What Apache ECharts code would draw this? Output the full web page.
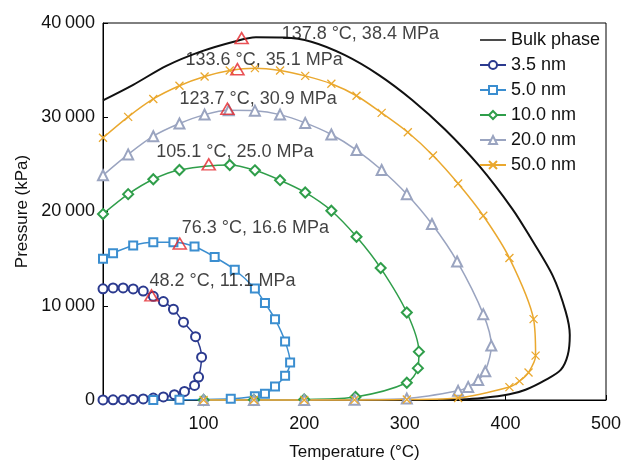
<!DOCTYPE html>
<html>
<head>
<meta charset="utf-8">
<script src="https://cdn.jsdelivr.net/npm/echarts@6/dist/echarts.min.js"></script>
<style>html,body{margin:0;padding:0;background:#fff}#c{width:630px;height:466px}</style>
</head>
<body>
<div id="c"></div>
<script>
// ---- data (temperature °C, pressure kPa) ----
const bulkT = [0, 30, 63, 97, 130, 152, 180, 207, 240, 274, 307, 340, 374, 407, 424, 447, 460, 464, 462, 455, 440, 420, 404, 377, 355, 333];
const bulkP = [31790, 33440, 35450, 36960, 38020, 38480, 38450, 38010, 36610, 34500, 31860, 28700, 24830, 20260, 17400, 13200, 9350, 6900, 4780, 3200, 2140, 1090, 600, 200, 40, 0];

const nm35T = [0, 10, 20, 30, 40, 50, 60, 70, 80, 92, 98, 95, 91, 81, 71, 60, 50, 40, 30, 20, 10, 0];
const nm35P = [11800, 11890, 11890, 11780, 11560, 11000, 10440, 9630, 8260, 6720, 4540, 2430, 1550, 910, 560, 320, 210, 110, 60, 30, 15, 5];

const nm5T = [0, 10, 30, 50, 70, 91, 111, 131, 151, 161, 171, 181, 186, 181, 171, 161, 151, 127, 76, 50];
const nm5P = [14980, 15580, 16390, 16740, 16740, 16280, 15160, 13820, 11820, 10280, 8580, 6220, 3990, 2570, 1440, 650, 390, 120, 20, 0];

const nm10T = [0, 25, 50, 76, 126, 151, 176, 201, 227, 252, 276, 302, 314, 313, 302, 251, 200, 150, 100];
const nm10P = [19730, 21840, 23420, 24400, 24930, 24370, 23320, 22020, 20080, 17320, 14000, 9280, 5130, 3380, 1830, 320, 60, 15, 0];

const nm20T = [0, 25, 50, 76, 101, 125, 151, 176, 201, 227, 252, 277, 302, 327, 352, 378, 386, 380, 373, 363, 353, 302, 250, 200, 150, 100];
const nm20P = [23840, 26060, 27990, 29330, 30280, 30750, 30700, 30280, 29400, 28170, 26520, 24400, 21840, 18670, 14700, 9110, 5770, 3040, 2110, 1390, 970, 150, 30, 10, 5, 0];

const nm50T = [0, 25, 50, 76, 101, 126, 151, 176, 201, 227, 252, 277, 303, 328, 353, 378, 404, 428, 430, 423, 414, 404, 353, 302, 250, 200, 150, 100];
const nm50P = [27820, 30040, 31940, 33340, 34320, 34960, 35210, 34960, 34390, 33550, 32280, 30460, 28410, 25950, 22970, 19550, 15060, 8580, 4710, 2920, 2000, 1370, 210, 50, 10, 5, 2, 0];

// critical points
const critT = [137.8, 133.6, 123.7, 105.1, 76.3, 48.2];
const critP = [38400, 35100, 30900, 25000, 16600, 11100];

const seriesNames = ['Bulk phase', '3.5 nm', '5.0 nm', '10.0 nm', '20.0 nm', '50.0 nm'];
const xTicks = [0, 100, 200, 300, 400, 500];
const yTicks = [0, 10000, 20000, 30000, 40000];

// ---- layout / style (not data) ----
const labelOffsets = [[40, -4], [-52, -9], [-48, -9.5], [-52.5, -12.5], [2, -16], [-2, -14]];
const FONT = '"Liberation Sans", Arial, sans-serif';
const colors = { bulk: '#111111', n35: '#2B3A8F', n5: '#3B8ED0', n10: '#2F9E4A', n20: '#9AA4C0', n50: '#EAA82E', red: '#E3262B' };
const lineOnlyIcon = 'path://M0,0L26,0L26,0.01Z M0,4.2L26,4.2L26,5.8L0,5.8Z M0,10L26,10L26,10.01Z';

const zip = (a, b) => a.map((v, i) => [v, b[i]]);

function curve(name, T, P, color, symbol, size) {
  return {
    name, type: 'line', data: zip(T, P), smooth: 0.3, clip: false,
    symbol, symbolSize: size, showSymbol: true,
    lineStyle: { color, width: 1.5 },
    itemStyle: { color, borderColor: color, borderWidth: 1.3 },
    emphasis: { disabled: true }
  };
}

const chart = echarts.init(document.getElementById('c'), null, { renderer: 'canvas' });
chart.setOption({
  animation: false,
  backgroundColor: '#fff',
  grid: { left: 103, right: 24, top: 23, bottom: 64, show: true, borderColor: '#000', borderWidth: 1, backgroundColor: 'transparent' },
  xAxis: {
    type: 'value', min: xTicks[0], max: xTicks[xTicks.length - 1], interval: 100,
    name: 'Temperature (°C)', nameLocation: 'middle', nameGap: 44,
    nameTextStyle: { fontSize: 17, color: '#111', fontFamily: FONT },
    axisLine: { show: true, lineStyle: { color: '#000', width: 1 } },
    axisTick: { show: true, inside: true, length: 5, lineStyle: { color: '#000' } },
    axisLabel: { fontSize: 18, color: '#111', fontFamily: FONT, margin: 15, formatter: v => v === 0 ? '' : String(v) },
    splitLine: { show: false }
  },
  yAxis: {
    type: 'value', min: yTicks[0], max: yTicks[yTicks.length - 1], interval: 10000,
    name: 'Pressure (kPa)', nameLocation: 'middle', nameGap: 70,
    nameTextStyle: { fontSize: 17, color: '#111', fontFamily: FONT },
    axisLine: { show: true, lineStyle: { color: '#000', width: 1 } },
    axisTick: { show: true, inside: true, length: 5, lineStyle: { color: '#000' } },
    axisLabel: { fontSize: 18, color: '#111', fontFamily: FONT, margin: 8,
      formatter: v => v === 0 ? '0' : String(v).replace(/(\d)(?=(\d{3})+$)/g, '$1\u2009') },
    splitLine: { show: false }
  },
  legend: {
    data: seriesNames.map((n, i) => i === 0 ? { name: n, icon: lineOnlyIcon } : { name: n }),
    orient: 'vertical', left: 474, top: 26,
    itemWidth: 26, itemHeight: 10, itemGap: 7,
    textStyle: { fontSize: 18, color: '#111', fontFamily: FONT },
    selectedMode: false
  },
  series: [
    { name: seriesNames[0], type: 'line', data: zip(bulkT, bulkP), smooth: 0.3, symbol: 'none', clip: false,
      lineStyle: { color: colors.bulk, width: 2 }, itemStyle: { color: colors.bulk }, emphasis: { disabled: true } },
    curve(seriesNames[1], nm35T, nm35P, colors.n35, 'emptyCircle', 9),
    curve(seriesNames[2], nm5T, nm5P, colors.n5, 'emptyRect', 8),
    curve(seriesNames[3], nm10T, nm10P, colors.n10, 'emptyDiamond', 10),
    curve(seriesNames[4], nm20T, nm20P, colors.n20, 'emptyTriangle', 10),
    curve(seriesNames[5], nm50T, nm50P, colors.n50, 'path://M0,0L10,10M10,0L0,10', 8),
    {
      name: 'critical', type: 'scatter', clip: false, z: 10,
      data: critT.map((t, i) => ({
        value: [t, critP[i]],
        label: { offset: labelOffsets[i] }
      })),
      symbol: 'triangle', symbolSize: [13, 11],
      itemStyle: { color: 'rgba(255,255,255,0)', borderColor: colors.red, borderWidth: 1.6 },
      label: {
        show: true, position: 'inside', align: 'left', verticalAlign: 'middle',
        fontSize: 18, color: '#111', fontFamily: FONT,
        formatter: p => p.value[0].toFixed(1) + ' °C, ' + (p.value[1] / 1000).toFixed(1) + ' MPa'
      },
      emphasis: { disabled: true }
    }
  ]
});
</script>
</body>
</html>
